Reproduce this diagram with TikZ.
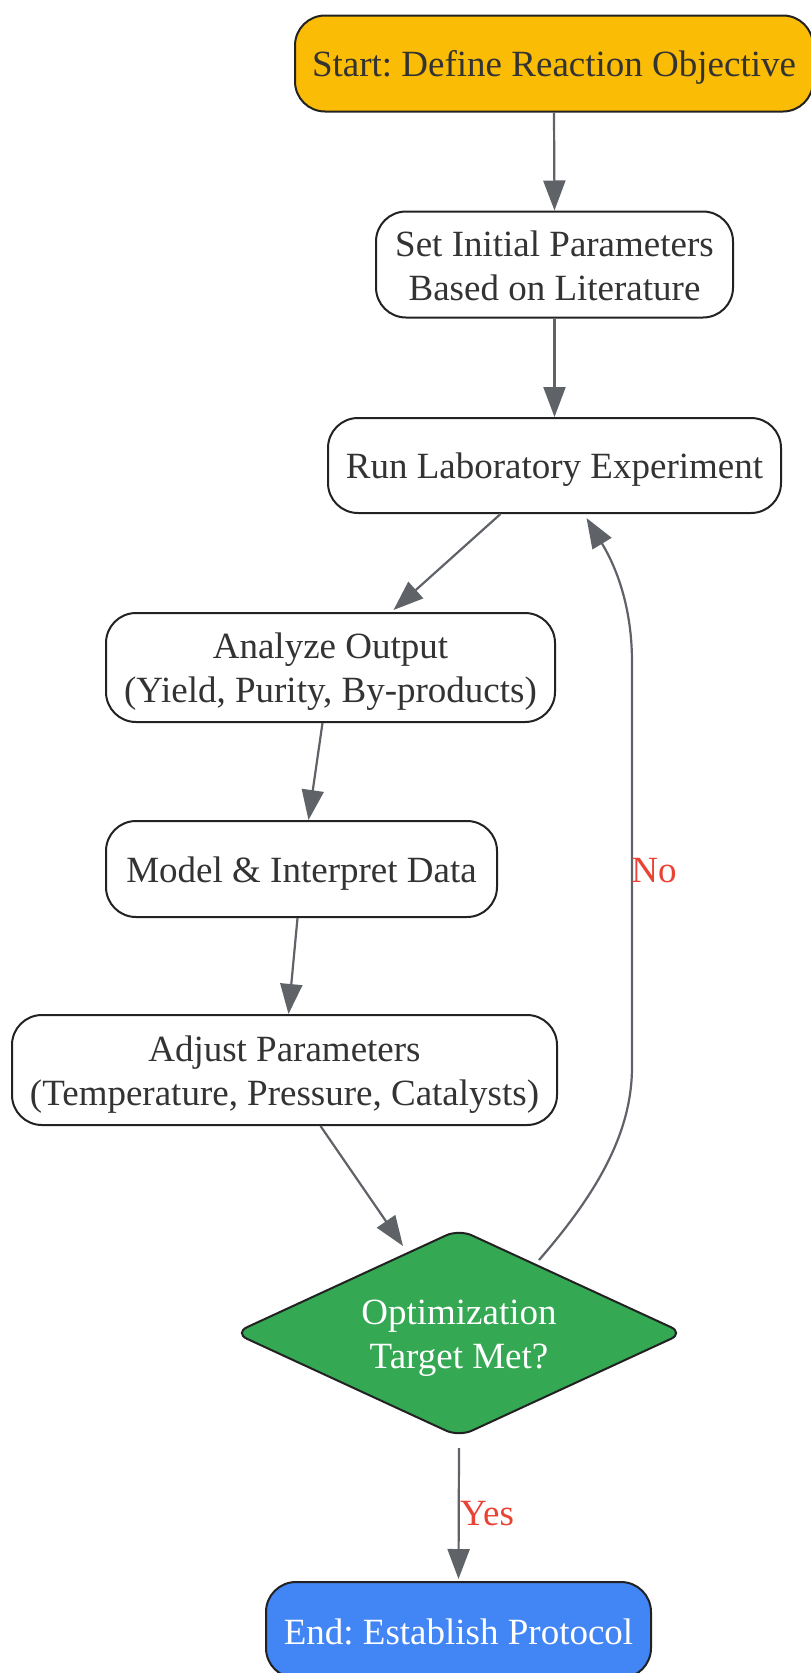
\documentclass[tikz,border=0pt]{standalone}
\usepackage{fontspec}
\setmainfont{Liberation Serif}
\usetikzlibrary{arrows.meta,shapes.geometric}
\definecolor{startfill}{HTML}{FBBC05}
\definecolor{decfill}{HTML}{34A853}
\definecolor{endfill}{HTML}{4285F4}
\definecolor{edgecol}{HTML}{5F6368}
\definecolor{bordercol}{HTML}{222222}
\definecolor{txtcol}{HTML}{333333}
\definecolor{lblcol}{HTML}{EA4335}
\frenchspacing
\newcommand\lnstrut{\rule[-6pt]{0pt}{40.5pt}}
\tikzset{
  box/.style={draw=bordercol, line width=2pt, rounded corners=30pt, fill=white,
    text=txtcol, align=center, inner sep=0pt, font=\fontsize{37}{44}\selectfont\frenchspacing},
  decision/.style={diamond, draw=bordercol, line width=2pt, rounded corners=14pt, fill=decfill,
    text=white, align=center, inner sep=0pt, aspect=2.16, font=\fontsize{37}{44}\selectfont},
  flow/.style={draw=edgecol, line width=2.2pt, -{Triangle[length=30pt,width=22pt]}},
  lbl/.style={text=lblcol, font=\fontsize{37}{44}\selectfont, inner sep=0pt}
}
\begin{document}
\begin{tikzpicture}[x=1pt,y=-1pt]
\useasboundingbox[fill=white] (0,0) rectangle (811,1673);
\node[box, fill=startfill, minimum width=518pt, minimum height=96pt] (n1) at (554,63.5) {\lnstrut Start: Define Reaction Objective};
\node[box, minimum width=357pt, minimum height=106pt] (n2) at (554.5,264.5) {\lnstrut Set Initial Parameters\\\lnstrut Based on Literature};
\node[box, minimum width=453pt, minimum height=95pt] (n3) at (554.5,465.5) {\lnstrut Run Laboratory Experiment};
\node[box, minimum width=449pt, minimum height=109pt] (n4) at (330.5,667.5) {\lnstrut Analyze Output\\\lnstrut (Yield, Purity, By-products)};
\node[box, minimum width=391pt, minimum height=96pt] (n5) at (301.5,869) {\lnstrut Model \& Interpret Data};
\node[box, minimum width=545pt, minimum height=110pt] (n6) at (284.5,1070) {\lnstrut Adjust Parameters\\\lnstrut (Temperature, Pressure, Catalysts)};
\node[decision, minimum width=450pt, minimum height=208pt] (dia) at (459,1333) {\lnstrut Optimization\\\lnstrut Target Met?};
\node[box, fill=endfill, text=white, minimum width=385pt, minimum height=96pt] (n8) at (458.5,1630) {\lnstrut End: Establish Protocol};

\draw[flow] (n1.south) -- (n2.north);
\draw[flow] (n2.south) -- (n3.north);
\draw[flow] ([xshift=-54pt]n3.south) -- ([xshift=63pt,yshift=2pt]n4.north);
\draw[flow] ([xshift=-8pt]n4.south) -- ([xshift=7pt]n5.north);
\draw[flow] ([xshift=-4pt]n5.south) -- ([xshift=4pt]n6.north);
\draw[flow] ([xshift=36pt]n6.south) -- ([shift={(-56pt,87pt)}]dia.center);
\coordinate (noup) at ([shift={(80pt,73pt)}]dia.center);
\coordinate (nobend1) at (632,1067);
\coordinate (nobend2) at (632,662);
\draw[flow] (noup) .. controls (600,1190) and (632,1130) .. (nobend1) -- (nobend2)
  .. controls (632,600) and (612,560) .. ([xshift=32pt,yshift=-4pt]n3.south);
\node[lbl] (nolbl) at (654,871) {No};
\draw[flow] ([yshift=-10pt]dia.south) -- ([yshift=2pt]n8.north);
\node[lbl] (yeslbl) at (487,1514) {Yes};
\end{tikzpicture}
\end{document}
